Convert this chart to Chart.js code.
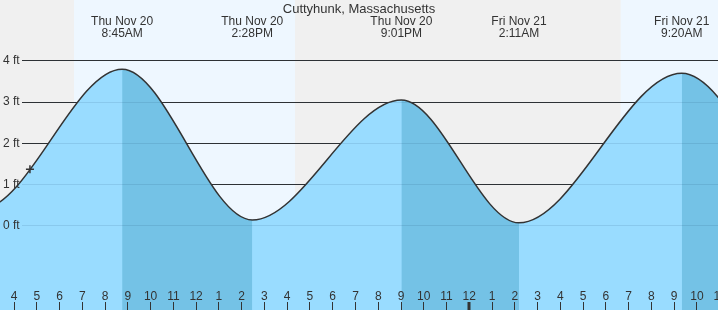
<!DOCTYPE html>
<html><head><meta charset="utf-8">
<script src="https://cdn.jsdelivr.net/npm/chart.js@4.4.1/dist/chart.umd.min.js"></script>
<style>html,body{margin:0;padding:0;background:#f0f0f0;}#wrap{width:718px;height:310px;}</style>
</head><body><div id="wrap"><canvas id="c" width="718" height="310"></canvas></div>
<script>
// hours counted from Thu Nov 20 00:00
const chartTitle = 'Cuttyhunk, Massachusetts';
const tideTimes   = [-3.6, 2.53, 8.75, 14.467, 21.017, 26.183, 33.333, 39.6, 45.8];
const tideHeights = [3.0, 0.4, 3.80, 0.14, 3.05, 0.07, 3.70, 0.1, 3.1];
const tideDayLabels   = ['', '', 'Thu Nov 20', 'Thu Nov 20', 'Thu Nov 20', 'Fri Nov 21', 'Fri Nov 21', '', ''];
const tideClockLabels = ['', '', '8:45AM', '2:28PM', '9:01PM', '2:11AM', '9:20AM', '', ''];
const nowTimes = [4.70];
const nowHeights = [1.37];
const dayStarts = [6.636, 30.65];
const dayEnds   = [16.343, 40.0];
const hourTickValues = [4,5,6,7,8,9,10,11,12,13,14,15,16,17,18,19,20,21,22,23,24,25,26,27,28,29,30,31,32,33,34,35];
const hourTickLabels = ['4','5','6','7','8','9','10','11','12','1','2','3','4','5','6','7','8','9','10','11','12','1','2','3','4','5','6','7','8','9','10','11'];
const yTickValues = [0, 1, 2, 3, 4];
const yTickLabels = ['0 ft', '1 ft', '2 ft', '3 ft', '4 ft'];
const xRange = [3.385, 34.925];
const yRange = [-2.046, 5.478];

const LIGHT = '#99dcff';
const DARK  = '#74c2e6';
const FONT = '"Liberation Sans", Arial, sans-serif';
const TEXT = '#333';

const tidePoints = () => tideTimes.map((t, i) => ({x: t, y: tideHeights[i]}));

const decor = {
  id: 'decor',
  beforeDatasetsDraw(chart) {
    const {ctx, chartArea: a, scales: {x, y}} = chart;
    ctx.save();
    ctx.fillStyle = '#f0f0f0';
    ctx.fillRect(a.left, a.top, a.width, a.height);
    ctx.fillStyle = '#eef7ff';
    for (let i = 0; i < dayStarts.length; i++) {
      const x0 = x.getPixelForValue(dayStarts[i]);
      const x1 = x.getPixelForValue(dayEnds[i]);
      ctx.fillRect(x0, a.top, x1 - x0, a.height);
    }
    ctx.strokeStyle = '#333';
    ctx.lineWidth = 1;
    for (const v of yTickValues) {
      const py = Math.floor(y.getPixelForValue(v)) + 0.5;
      ctx.beginPath(); ctx.moveTo(22, py); ctx.lineTo(a.right, py); ctx.stroke();
    }
    ctx.restore();
  },
  afterDatasetDraw(chart, args) {
    if (args.index !== 1) return;
    const {ctx, chartArea: a, scales: {y}} = chart;
    ctx.save();
    ctx.strokeStyle = 'rgba(0,40,80,0.1)';
    ctx.lineWidth = 1;
    for (const v of yTickValues) {
      const py = Math.floor(y.getPixelForValue(v)) + 0.5;
      ctx.beginPath(); ctx.moveTo(22, py); ctx.lineTo(a.right, py); ctx.stroke();
    }
    ctx.restore();
  },
  afterDatasetsDraw(chart) {
    const {ctx, scales: {x, y}} = chart;
    ctx.save();
    ctx.fillStyle = TEXT;
    ctx.font = '12px ' + FONT;
    ctx.textAlign = 'left'; ctx.textBaseline = 'middle';
    yTickValues.forEach((v, i) => ctx.fillText(yTickLabels[i], 3, y.getPixelForValue(v)));
    ctx.textAlign = 'center'; ctx.textBaseline = 'alphabetic';
    ctx.strokeStyle = '#333';
    hourTickValues.forEach((v, i) => {
      const px = x.getPixelForValue(v);
      ctx.fillText(hourTickLabels[i], px, 300);
      const mid = (v % 24 === 0);
      ctx.lineWidth = mid ? 3 : 1;
      const lx = mid ? Math.round(px) : Math.floor(px) + 0.5;
      ctx.beginPath(); ctx.moveTo(lx, 302); ctx.lineTo(lx, 310); ctx.stroke();
    });
    tideTimes.forEach((t, i) => {
      if (!tideDayLabels[i]) return;
      const px = x.getPixelForValue(t);
      ctx.fillText(tideDayLabels[i], px, 24.5);
      ctx.fillText(tideClockLabels[i], px, 37);
    });
    ctx.font = '13px ' + FONT;
    ctx.fillText(chartTitle, 359, 12.5);
    ctx.restore();
  }
};

new Chart(document.getElementById('c'), {
  type: 'line',
  data: {
    datasets: [
      { // light fill under whole curve
        data: tidePoints(), order: 4,
        borderWidth: 0, borderColor: 'rgba(0,0,0,0)', pointRadius: 0,
        cubicInterpolationMode: 'monotone', fill: 'start', backgroundColor: LIGHT
      },
      { // darker fill on falling tide
        data: tidePoints(), order: 3,
        borderWidth: 0, borderColor: 'rgba(0,0,0,0)', pointRadius: 0,
        cubicInterpolationMode: 'monotone', fill: 'start', backgroundColor: 'rgba(0,0,0,0)',
        segment: { backgroundColor: c => (c.p1.parsed.y < c.p0.parsed.y ? DARK : 'rgba(0,0,0,0)') }
      },
      { // tide curve
        data: tidePoints(), order: 2,
        borderColor: '#333', borderWidth: 1.5, pointRadius: 0,
        cubicInterpolationMode: 'monotone', fill: false
      },
      { // current time marker
        data: nowTimes.map((t, i) => ({x: t, y: nowHeights[i]})), order: 1,
        showLine: false, fill: false,
        pointStyle: 'cross', pointRadius: 4, pointBorderWidth: 1.5,
        pointBorderColor: '#333', borderColor: '#333'
      }
    ]
  },
  options: {
    responsive: false,
    animation: false,
    events: [],
    layout: {padding: 0, autoPadding: false},
    plugins: {legend: {display: false}, tooltip: {enabled: false}, title: {display: false}},
    scales: {
      x: {type: 'linear', display: false, bounds: 'data',
          afterDataLimits: s => { s.min = xRange[0]; s.max = xRange[1]; }},
      y: {type: 'linear', display: false, min: yRange[0], max: yRange[1]}
    }
  },
  plugins: [decor]
});
</script>
</body></html>
